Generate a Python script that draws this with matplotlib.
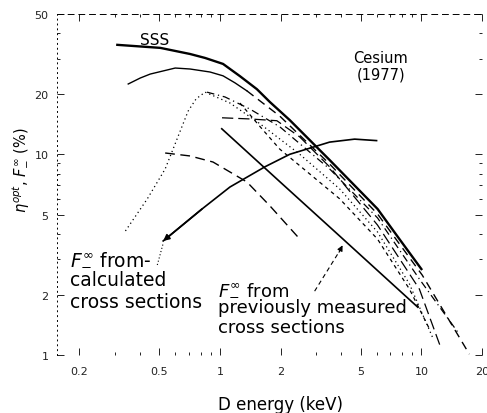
import matplotlib
matplotlib.use('Agg')
import matplotlib.pyplot as plt
from matplotlib.ticker import FixedLocator, NullFormatter

plt.rcParams['font.family'] = ['DejaVu Sans']
plt.rcParams['mathtext.fontset'] = 'dejavusans'

# D energy (keV) and efficiency / fraction (%) for each curve
sss_e = [0.309, 0.505, 0.710, 0.843, 1.035, 1.256, 1.525, 1.77, 2.22, 3.50, 6.06, 7.78, 10.0]
sss_v = [35.1, 33.9, 31.6, 30.2, 28.2, 24.5, 21.1, 18.2, 14.8, 9.37, 5.34, 3.78, 2.68]

arc_e = [0.350, 0.402, 0.450, 0.599, 0.710, 0.892, 1.035, 1.186, 1.360,
         1.98, 3.50, 6.06, 10.1, 17.3]
arc_v = [22.4, 24.0, 25.1, 26.9, 26.6, 25.7, 24.6, 22.7, 20.7,
         15.5, 8.95, 5.04, 2.50, 1.01]

low_dash_e = [0.534, 0.710, 0.923, 1.36, 1.77, 2.49]
low_dash_v = [10.15, 9.81, 9.15, 7.28, 5.53, 3.78]

dashdot_e = [0.862, 1.059, 1.408, 1.982, 3.504, 6.056, 9.774, 15.42]
dashdot_v = [20.4, 19.3, 16.8, 13.7, 8.45, 4.82, 2.39, 1.27]

longdash_e = [1.023, 1.408, 1.915, 2.489, 3.504, 6.056, 9.774, 12.56]
longdash_v = [15.2, 15.0, 14.7, 12.2, 8.65, 4.44, 2.13, 1.07]

dotted_e = [0.339, 0.435, 0.534, 0.694, 0.761, 0.843, 1.121, 1.578, 2.489,
            3.928, 6.056, 8.721, 11.34]
dotted_v = [4.15, 5.99, 8.45, 16.4, 18.9, 20.4, 18.0, 14.2, 10.0,
            6.72, 4.10, 2.26, 1.23]

short_e = [1.256, 1.614, 1.982, 2.790, 3.928, 6.056, 8.721, 10.96]
short_v = [18.0, 13.4, 10.6, 7.98, 6.0, 3.78, 2.13, 1.35]

meas_e = [1.02, 2.0, 4.0, 9.6]
meas_v = [13.4, 7.24, 3.85, 1.73]

calc_e = [0.522, 0.814, 1.12, 1.67, 2.22, 3.50, 4.66, 5.99]
calc_v = [3.70, 5.34, 6.87, 8.66, 10.0, 11.5, 11.9, 11.7]

x_ticks = [0.2, 0.5, 1, 2, 5, 10, 20]
x_labels = ['0.2', '0.5', '1', '2', '5', '10', '20']
y_ticks = [1, 2, 5, 10, 20, 50]
y_labels = ['1', '2', '5', '10', '20', '50']

fig = plt.figure(figsize=(4.87, 4.14), dpi=100)
ax = fig.add_axes([57 / 487, 1 - 356 / 414, 425 / 487, 341 / 414])
ax.set_xscale('log')
ax.set_yscale('log')
ax.set_xlim(0.155, 20)
ax.set_ylim(1, 50)

k = 'black'
ax.plot(sss_e, sss_v, color=k, lw=1.7)
ax.plot(arc_e[:9], arc_v[:9], color=k, lw=1.0)
ax.plot(arc_e[8:], arc_v[8:], color=k, lw=1.0, ls=(0, (6, 4)))
ax.plot(low_dash_e, low_dash_v, color=k, lw=1.0, ls=(0, (7, 4)))
ax.plot(dashdot_e, dashdot_v, color=k, lw=0.9, ls=(0, (6, 3, 1, 3)))
ax.plot(longdash_e, longdash_v, color=k, lw=0.9, ls=(0, (9, 4)))
ax.plot(dotted_e, dotted_v, color=k, lw=0.9, ls=(0, (1, 2.5)))
ax.plot(short_e, short_v, color=k, lw=0.9, ls=(0, (3, 3)))
ax.plot(meas_e, meas_v, color=k, lw=1.2)
ax.plot(calc_e, calc_v, color=k, lw=1.2)

# arrowhead on the lower end of the rising curve
ax.annotate('', xy=(calc_e[0], calc_v[0]), xytext=(calc_e[1], calc_v[1]),
            arrowprops=dict(arrowstyle='-|>', color=k, lw=1.2,
                            mutation_scale=9, shrinkA=0, shrinkB=0))

# leaders from the two labels
ax.plot([0.488, 0.522], [2.81, 3.60], color=k, lw=0.8, ls=(0, (1, 2)))
ax.plot([2.95, 4.0], [2.08, 3.40], color=k, lw=0.8, ls=(0, (4, 3)))
ax.annotate('', xy=(4.06, 3.52), xytext=(3.9, 3.25),
            arrowprops=dict(arrowstyle='-|>', color=k, lw=0.8,
                            mutation_scale=8, shrinkA=0, shrinkB=0))

ax.text(0.476, 37.5, 'SSS', fontsize=11, ha='center', va='center')
ax.text(6.3, 27.6, 'Cesium\n(1977)', fontsize=10.5, ha='center', va='center',
        linespacing=1.05)

fig.text(70 / 487, 1 - 248 / 414,
         '$F_{-}^{\\infty}$ from-\ncalculated\ncross sections',
         fontsize=13.5, ha='left', va='top', linespacing=1.25)
fig.text(218 / 487, 1 - 280 / 414,
         '$F_{-}^{\\infty}$ from\npreviously measured\ncross sections',
         fontsize=13, ha='left', va='top', linespacing=1.1)

ax.xaxis.set_major_locator(FixedLocator(x_ticks))
ax.set_xticklabels(x_labels)
ax.yaxis.set_major_locator(FixedLocator(y_ticks))
ax.set_yticklabels(y_labels)
ax.xaxis.set_minor_locator(FixedLocator([0.3, 0.4, 0.6, 0.7, 0.8, 0.9,
                                         3, 4, 6, 7, 8, 9]))
ax.yaxis.set_minor_locator(FixedLocator([3, 4, 6, 7, 8, 9, 30, 40]))
ax.xaxis.set_minor_formatter(NullFormatter())
ax.yaxis.set_minor_formatter(NullFormatter())
ax.tick_params(which='both', direction='in', top=True, right=True,
               labelsize=8, width=0.7, colors='#222222')
ax.tick_params(which='major', length=5)
ax.tick_params(axis='x', which='major', pad=8)
ax.tick_params(axis='y', which='major', pad=6)
ax.tick_params(which='minor', length=2)

ax.spines['left'].set_linestyle((0, (1, 4)))
ax.spines['top'].set_linestyle((0, (6, 5)))
ax.spines['bottom'].set_visible(False)
ax.spines['right'].set_visible(False)
for side in ('left', 'top'):
    ax.spines[side].set_linewidth(0.7)

fig.text(21 / 487, 1 - 170 / 414, '$\\eta^{opt}$, $F_{-}^{\\infty}$ (%)',
         rotation=90, fontsize=10.5, ha='center', va='center')
fig.text(280 / 487, 1 - 405 / 414, 'D energy (keV)', fontsize=12,
         ha='center', va='center')

fig.savefig('out.png', dpi=100)
